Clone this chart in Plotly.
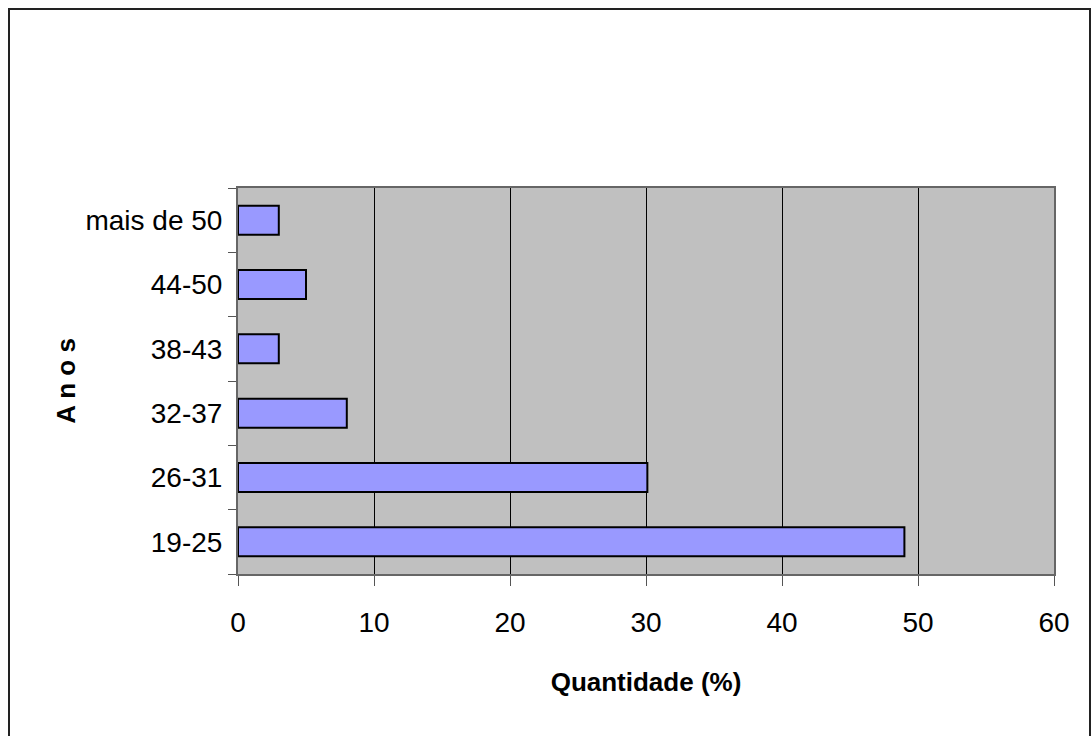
import plotly.graph_objects as go

CATEGORIES = ["19-25", "26-31", "32-37", "38-43", "44-50", "mais de 50"]
PERCENTAGES = [49, 30.1, 8, 3, 5, 3]
X_TICKS = [0, 10, 20, 30, 40, 50, 60]

FONT = "Liberation Sans, Arial, sans-serif"

W, H = 1092, 736
L, R, T, B = 238, 38, 188, 162
PW, PH = W - L - R, H - T - B

fig = go.Figure()
fig.add_trace(
    go.Bar(
        x=PERCENTAGES,
        y=CATEGORIES,
        orientation="h",
        width=0.45,
        marker=dict(color="#9999FF", line=dict(color="black", width=2)),
        showlegend=False,
    )
)

fig.update_xaxes(
    range=[0, 60],
    tickvals=X_TICKS,
    ticks="outside",
    ticklen=10,
    tickcolor="#555555",
    ticklabelstandoff=12,
    showgrid=True,
    gridcolor="black",
    gridwidth=1,
    showline=True,
    linecolor="#666666",
    linewidth=2,
    mirror=True,
    zeroline=False,
    tickfont=dict(family=FONT, size=28, color="black"),
    title=dict(
        text="<b>Quantidade (%)</b>",
        font=dict(family=FONT, size=26, color="black"),
        standoff=36,
    ),
)

fig.update_yaxes(
    type="category",
    categoryorder="array",
    categoryarray=CATEGORIES,
    tickson="boundaries",
    ticks="outside",
    ticklen=8,
    tickcolor="#555555",
    ticklabelstandoff=8,
    showgrid=False,
    showline=True,
    linecolor="#666666",
    linewidth=2,
    mirror=True,
    tickfont=dict(family=FONT, size=28, color="black"),
    title=dict(
        text="<b>A n o s</b>",
        font=dict(family=FONT, size=26, color="black"),
        standoff=2,
    ),
)

fig.update_layout(
    width=W,
    height=H,
    plot_bgcolor="#C0C0C0",
    paper_bgcolor="white",
    margin=dict(l=L, r=R, t=T, b=B),
    bargap=0.55,
    shapes=[
        dict(
            type="rect",
            xref="paper",
            yref="paper",
            x0=(9 - L) / PW,
            x1=(1090 - L) / PW,
            y0=(H - B - 750) / PH,
            y1=(H - B - 9) / PH,
            line=dict(color="#222222", width=2),
            layer="below",
        )
    ],
)

# drop the browser's default 8px body margin so the figure sits at (0, 0)
fig.write_html(
    "out.html",
    config={"displayModeBar": False},
    post_script="document.body.style.margin = '0';",
)
